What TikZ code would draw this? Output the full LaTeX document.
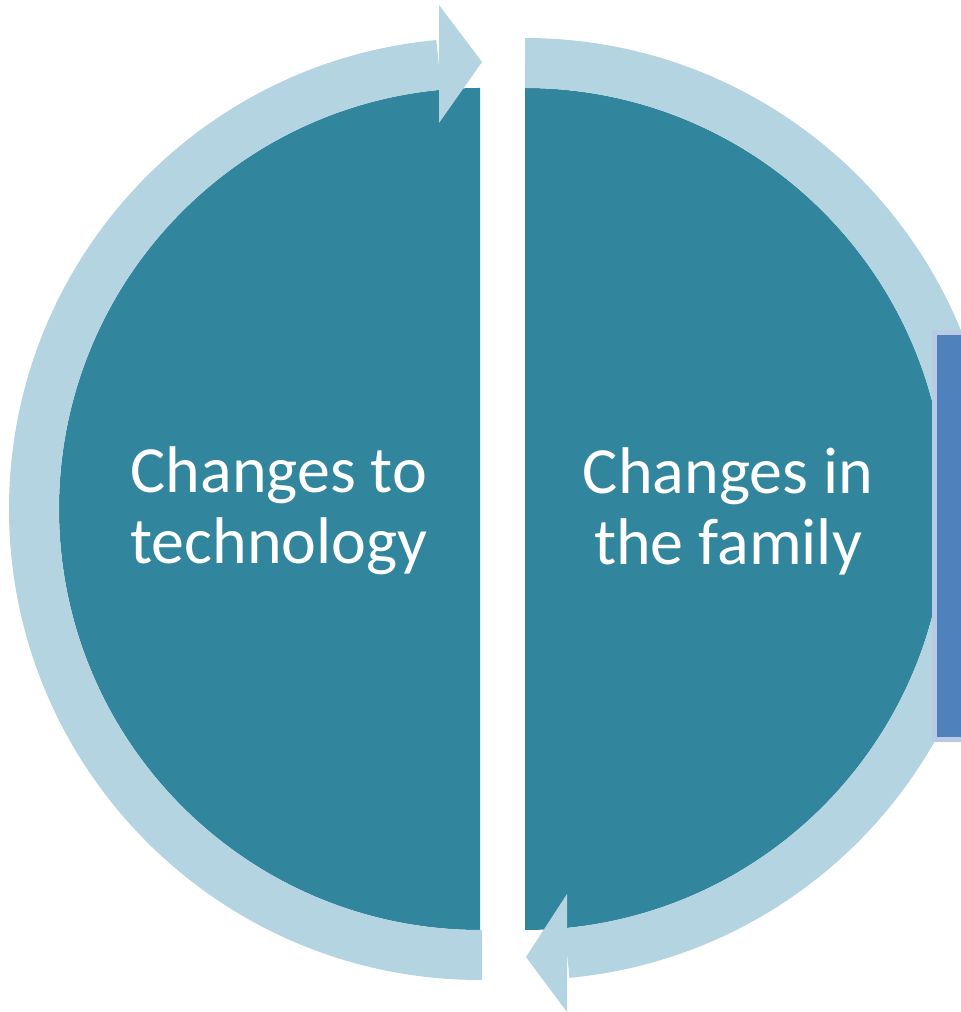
\documentclass[tikz,border=0pt]{standalone}
\usepackage{fontspec}
\setmainfont{Carlito}
\definecolor{darkteal}{HTML}{31859C}
\definecolor{lightteal}{HTML}{B3D4E0}
\definecolor{boxblue}{HTML}{4F81BD}
\definecolor{boxborder}{HTML}{B9CBE4}
\begin{document}
\begin{tikzpicture}[x=1pt,y=1pt,
  disk/.style={fill=darkteal},
  band/.style={draw=lightteal,line width=50pt,line cap=butt},
  head/.style={fill=lightteal},
  label/.style={text=white,font=\fontsize{66}{71}\selectfont,align=center,inner sep=0pt}]
\useasboundingbox (0,0) rectangle (961,1012);
\clip (0,0) rectangle (961,1012);
% left half
\fill[disk] (480,924) arc[start angle=90,end angle=270,radius=421] -- cycle;
\draw[band] (482,57) -- (480,57) arc[start angle=270,end angle=95.3,radius=446];
\fill[head] (439,1007) -- (482,950) -- (439,889) -- cycle;
% right half
\fill[disk] (525,924) arc[start angle=90,end angle=-90,radius=421] -- cycle;
\draw[band] (525,949) arc[start angle=90,end angle=-84.6,radius=446];
\fill[head] (567,118) -- (526,55) -- (567,0) -- cycle;
% side box
\draw[draw=boxborder,fill=boxblue,line width=5pt] (934.5,679.5) rectangle (990,272);
% labels
\node[label] (lt) at (279,501) {Changes to\\technology};
\node[label] (rt) at (728,501) {Changes in\\the family};
\end{tikzpicture}
\end{document}
